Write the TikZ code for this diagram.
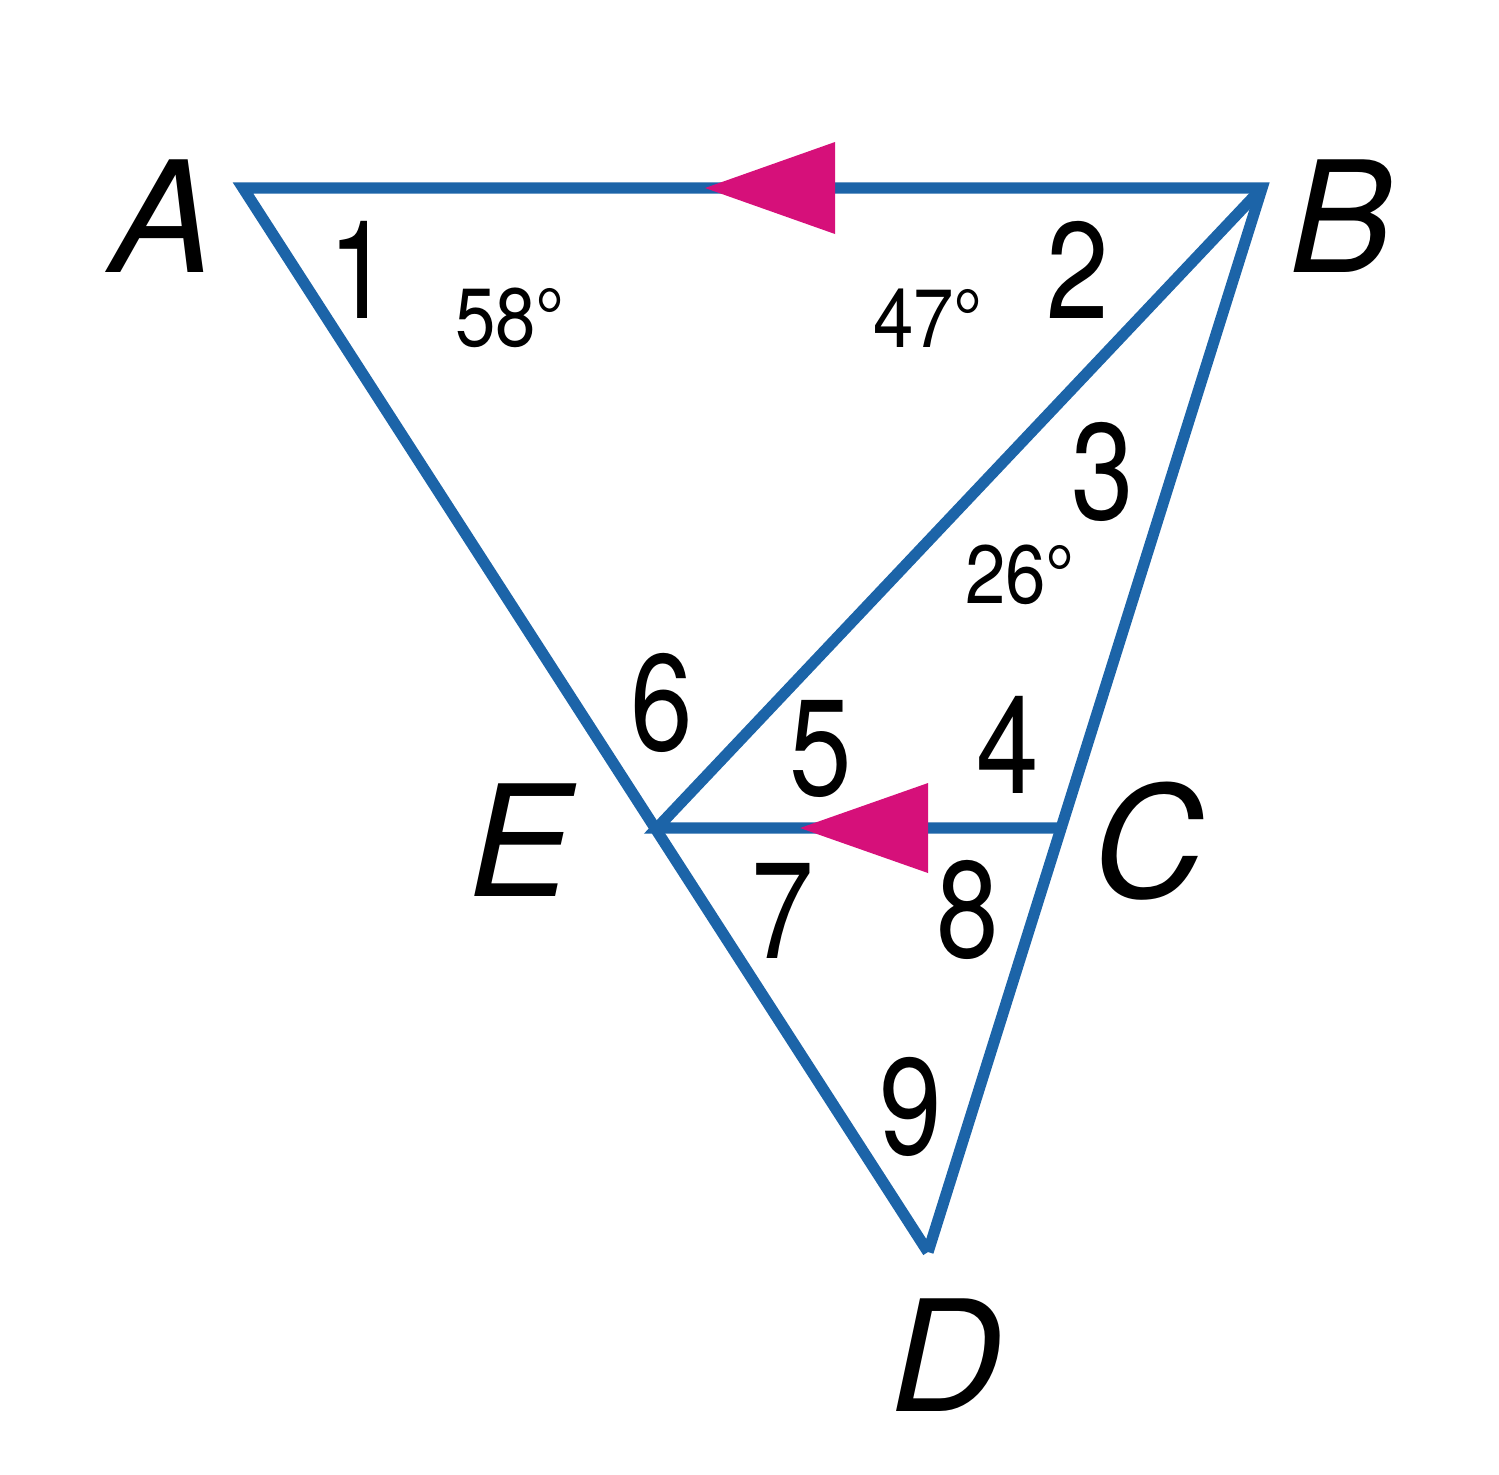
\documentclass[tikz,border=0pt]{standalone}
\usepackage{fontspec}
\setmainfont{TeX Gyre Heros}
\newfontfamily\numfont[FakeStretch=0.82]{TeX Gyre Heros}
\newfontfamily\degfont[FakeStretch=0.88]{TeX Gyre Heros}
\definecolor{segblue}{RGB}{28,100,168}
\definecolor{arrmag}{RGB}{214,16,122}
\tikzset{
  seg/.style={draw=segblue, line width=3.2pt, line join=miter},
  ptlabel/.style={font=\fontsize{44}{46}\selectfont\itshape, inner sep=0pt},
  anglenum/.style={font=\fontsize{39}{42}\numfont, inner sep=0pt},
  degtext/.style={font=\fontsize{23.5}{26}\degfont, inner sep=0pt},
  marker/.style={fill=arrmag}
}
\begin{document}
\begin{tikzpicture}
\useasboundingbox (0,0) rectangle (14.99,-14.74);
% vertices
\coordinate (A) at (2.43,-1.88);
\coordinate (B) at (12.62,-1.88);
\coordinate (E) at (6.57,-8.28);
\coordinate (C) at (10.59,-8.28);
\coordinate (D) at (9.28,-12.52);
% segments
\draw[seg] (D) -- (A) -- (B) -- (D);
\draw[seg] (B) -- (E) -- (C);
% parallel markers
\coordinate (tipAB) at (7.05,-1.88);
\coordinate (tipEC) at (8.00,-8.28);
\fill[marker] (tipAB) -- ++(1.30,0.46) -- ++(0,-0.92) -- cycle;
\fill[marker] (tipEC) -- ++(1.28,0.45) -- ++(0,-0.90) -- cycle;
% point labels
\node[ptlabel] (lA) at (1.62,-2.16) {A};
\node[ptlabel] (lB) at (13.41,-2.16) {B};
\node[ptlabel] (lE) at (5.20,-8.40) {E};
\node[ptlabel] (lC) at (11.48,-8.41) {C};
\node[ptlabel] (lD) at (9.46,-13.55) {D};
% angle numbers
\node[anglenum] (n1) at (3.60,-2.70) {1};
\node[anglenum] (n2) at (10.78,-2.70) {2};
\node[anglenum] (n3) at (11.03,-4.72) {3};
\node[anglenum] (n4) at (10.08,-7.45) {4};
\node[anglenum] (n5) at (8.21,-7.49) {5};
\node[anglenum] (n6) at (6.62,-7.03) {6};
\node[anglenum] (n7) at (7.83,-9.11) {7};
\node[anglenum] (n8) at (9.68,-9.10) {8};
\node[anglenum] (n9) at (9.11,-11.07) {9};
% degree values
\node[degtext] (d58) at (5.10,-3.18) {58°};
\node[degtext] (d47) at (9.28,-3.18) {47°};
\node[degtext] (d26) at (10.20,-5.75) {26°};
\end{tikzpicture}
\end{document}
